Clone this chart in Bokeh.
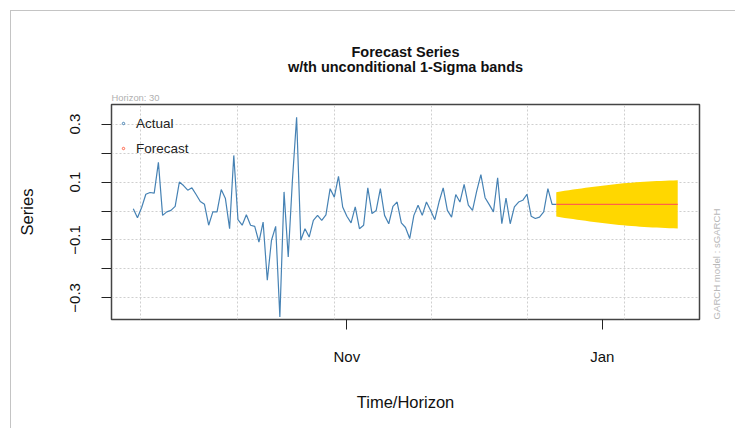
import numpy as np
import pandas as pd
from math import pi
from bokeh.plotting import figure
from bokeh.models import (Range1d, FixedTicker, Title, Legend, LegendItem, LinearAxis,
                          ColumnDataSource, InlineStyleSheet)
from bokeh.embed import file_html
from bokeh.resources import INLINE

# ---------------- data ----------------
start_date = "2017-09-11"
actual = [
    0.008, -0.023, 0.012, 0.058, 0.064, 0.062, 0.168, -0.015, -0.003, 0.002,
    0.016, 0.100, 0.088, 0.072, 0.080, 0.057, 0.033, 0.023, -0.049, -0.003,
    -0.003, 0.074, 0.043, -0.061, 0.192, -0.030, -0.049, -0.013, -0.049, -0.053,
    -0.107, -0.038, -0.239, -0.101, -0.053, -0.366, 0.066, -0.159, 0.106, 0.324,
    -0.101, -0.061, -0.090, -0.032, -0.015, -0.032, -0.013, 0.077, 0.048, 0.120,
    0.014, -0.018, -0.041, 0.014, -0.061, -0.049, 0.080, -0.009, 0.002, 0.077,
    -0.015, -0.044, 0.016, 0.031, -0.041, -0.057, -0.095, -0.015, 0.020, -0.015,
    0.031, 0.002, -0.030, 0.031, 0.080, 0.002, -0.021, 0.057, 0.031, 0.092,
    0.020, 0.002, 0.069, 0.126, 0.046, 0.022, -0.003, 0.115, -0.044, 0.045,
    -0.044, 0.014, 0.031, 0.037, 0.058, -0.018, -0.026, -0.021, -0.003, 0.077,
    0.023,
]
forecast_mean = [
    0.023, 0.023, 0.023, 0.023, 0.023, 0.023, 0.023, 0.023, 0.023, 0.023,
    0.023, 0.023, 0.023, 0.023, 0.023, 0.023, 0.023, 0.023, 0.023, 0.023,
    0.023, 0.023, 0.023, 0.023, 0.023, 0.023, 0.023, 0.023, 0.023, 0.023,
]
forecast_sigma = [
    0.042, 0.0445, 0.047, 0.049, 0.051, 0.053, 0.055, 0.057, 0.059, 0.061,
    0.0628, 0.0645, 0.0662, 0.068, 0.0695, 0.071, 0.0725, 0.074, 0.075, 0.076,
    0.077, 0.078, 0.0788, 0.0796, 0.0803, 0.081, 0.0816, 0.0822, 0.0827, 0.083,
]
month_dates = ["2017-11-01", "2018-01-01"]
month_labels = ["Nov", "Jan"]
y_labeled_ticks = [-0.3, -0.1, 0.1, 0.3]
y_unlabeled_ticks = [-0.2, 0.0, 0.2]
title_lines = ["Forecast Series", "w/th unconditional 1-Sigma bands"]
horizon_text = "Horizon: 30"
model_text = "GARCH model : sGARCH"
x_title = "Time/Horizon"
y_title = "Series"
legend_labels = ["Actual", "Forecast"]

# ---------------- derived ----------------
n_act = len(actual)
n_fc = len(forecast_mean)
x_act = list(range(n_act))
x_fc = list(range(n_act, n_act + n_fc))
fm = np.array(forecast_mean)
fs = np.array(forecast_sigma)
month_pos = [(pd.Timestamp(d) - pd.Timestamp(start_date)).days for d in month_dates]

FONT = "Liberation Sans"
BLUE = "#4682B4"
RED = "#FF6347"
Y_LO, Y_HI = -0.3746, 0.3678

p = figure(width=735, height=428, output_backend="svg", toolbar_location=None,
           x_range=Range1d(-5.2, 135.2), y_range=Range1d(Y_LO, Y_HI),
           min_border_left=111, min_border_right=36, min_border_top=104,
           min_border_bottom=109, background_fill_color="white",
           border_fill_color="white")
p.title = None

p.outline_line_color = "#444444"
p.outline_line_width = 1.5

# grid
p.xgrid.ticker = FixedTicker(ticks=[1.7, 24.85, 47.95, 71.1, 94.2, 117.35])
p.ygrid.ticker = FixedTicker(ticks=y_labeled_ticks + y_unlabeled_ticks)
for g in (p.xgrid, p.ygrid):
    g.grid_line_color = "#cfcfcf"
    g.grid_line_dash = "2 2"
    g.grid_line_width = 1

# x axis
p.xaxis.ticker = FixedTicker(ticks=month_pos, minor_ticks=[])
p.xaxis.major_label_overrides = {pos: lab for pos, lab in zip(month_pos, month_labels)}
p.xaxis.axis_line_color = None
p.xaxis.major_tick_out = 10
p.xaxis.major_tick_in = 0
p.xaxis.major_tick_line_color = "#222222"
p.xaxis.major_label_text_font = FONT
p.xaxis.major_label_text_font_size = "15px"
p.xaxis.major_label_text_color = "#111111"
p.xaxis.major_label_standoff = 18
p.xaxis.axis_label = x_title
p.xaxis.axis_label_text_font = FONT
p.xaxis.axis_label_text_font_size = "16.5px"
p.xaxis.axis_label_text_font_style = "normal"
p.xaxis.axis_label_text_color = "#111111"
p.xaxis.axis_label_standoff = 25

# y axis
p.yaxis.ticker = FixedTicker(ticks=y_labeled_ticks, minor_ticks=y_unlabeled_ticks)
p.yaxis.axis_line_color = None
p.yaxis.major_tick_out = 10
p.yaxis.major_tick_in = 0
p.yaxis.minor_tick_out = 10
p.yaxis.minor_tick_in = 0
p.yaxis.major_tick_line_color = "#222222"
p.yaxis.minor_tick_line_color = "#222222"
p.yaxis.major_label_orientation = "vertical"
p.yaxis.major_label_text_font = FONT
p.yaxis.major_label_text_font_size = "15px"
p.yaxis.major_label_text_color = "#111111"
p.yaxis.major_label_standoff = 21
p.yaxis.axis_label = y_title
p.yaxis.axis_label_text_font = FONT
p.yaxis.axis_label_text_font_size = "16.5px"
p.yaxis.axis_label_text_font_style = "normal"
p.yaxis.axis_label_text_color = "#111111"
p.yaxis.axis_label_standoff = 32

# right side note (model name), starting at the frame bottom and reading upward
note_anchor = Y_LO + 0.0001
right_ax = LinearAxis(ticker=FixedTicker(ticks=[note_anchor], minor_ticks=[]),
                      major_label_overrides={note_anchor: model_text},
                      axis_line_color=None, major_tick_line_color=None,
                      major_tick_out=0, major_tick_in=0,
                      major_label_orientation=pi / 2, major_label_standoff=17,
                      major_label_text_font=FONT, major_label_text_font_size="9.6px",
                      major_label_text_color="#b8b8b8")
p.add_layout(right_ax, "right")

# legend glyph renderers: kept underneath the opaque band so only the legend shows them
leg_src = ColumnDataSource(dict(x=[x_fc[n_fc // 2]], y=[forecast_mean[n_fc // 2]]))
r_a = p.scatter("x", "y", source=leg_src, marker="circle", size=5, level="underlay",
                fill_color=None, line_color=BLUE, line_width=1)
r_f = p.scatter("x", "y", source=leg_src, marker="circle", size=5, level="underlay",
                fill_color=None, line_color=RED, line_width=1)

# band, lines
band_src = ColumnDataSource(dict(x=x_fc, lo=fm - fs, hi=fm + fs))
p.varea(x="x", y1="lo", y2="hi", source=band_src, fill_color="#FFD700")
p.line(x_act + [x_fc[0]], actual + [forecast_mean[0]], line_color=BLUE, line_width=1.2)
p.line(x_fc, forecast_mean, line_color=RED, line_width=1.2)

legend = Legend(items=[LegendItem(label=legend_labels[0], renderers=[r_a]),
                       LegendItem(label=legend_labels[1], renderers=[r_f])],
                location="top_left", background_fill_alpha=0, border_line_color=None,
                margin=9, padding=0, spacing=5, glyph_width=6, glyph_height=20,
                label_height=20, label_standoff=10, label_text_font=FONT,
                label_text_font_size="13.5px", label_text_color="#222222")
p.add_layout(legend)

# titles: nearest the frame first
p.add_layout(Title(text=horizon_text, align="left", text_font=FONT,
                   text_font_size="9.4px", text_font_style="normal",
                   text_color="#b0b0b0", standoff=3), "above")
p.add_layout(Title(text=title_lines[1], align="center", text_font=FONT,
                   text_font_size="14.5px", text_font_style="bold",
                   text_color="#111111", standoff=28), "above")
p.add_layout(Title(text=title_lines[0], align="center", text_font=FONT,
                   text_font_size="14.5px", text_font_style="bold",
                   text_color="#111111", standoff=-35), "above")

# screenshot frame lines (top and left)
p.stylesheets = [InlineStyleSheet(css=(
    ":host { position: relative; }"
    ":host::after { content: ''; position: absolute; left: 10px; top: 10px; "
    "right: 0; bottom: 0; border-left: 1.5px solid #c4c4c4; "
    "border-top: 1.5px solid #c4c4c4; pointer-events: none; z-index: 10; }"))]

open("out.html", "w").write(file_html(p, INLINE))
